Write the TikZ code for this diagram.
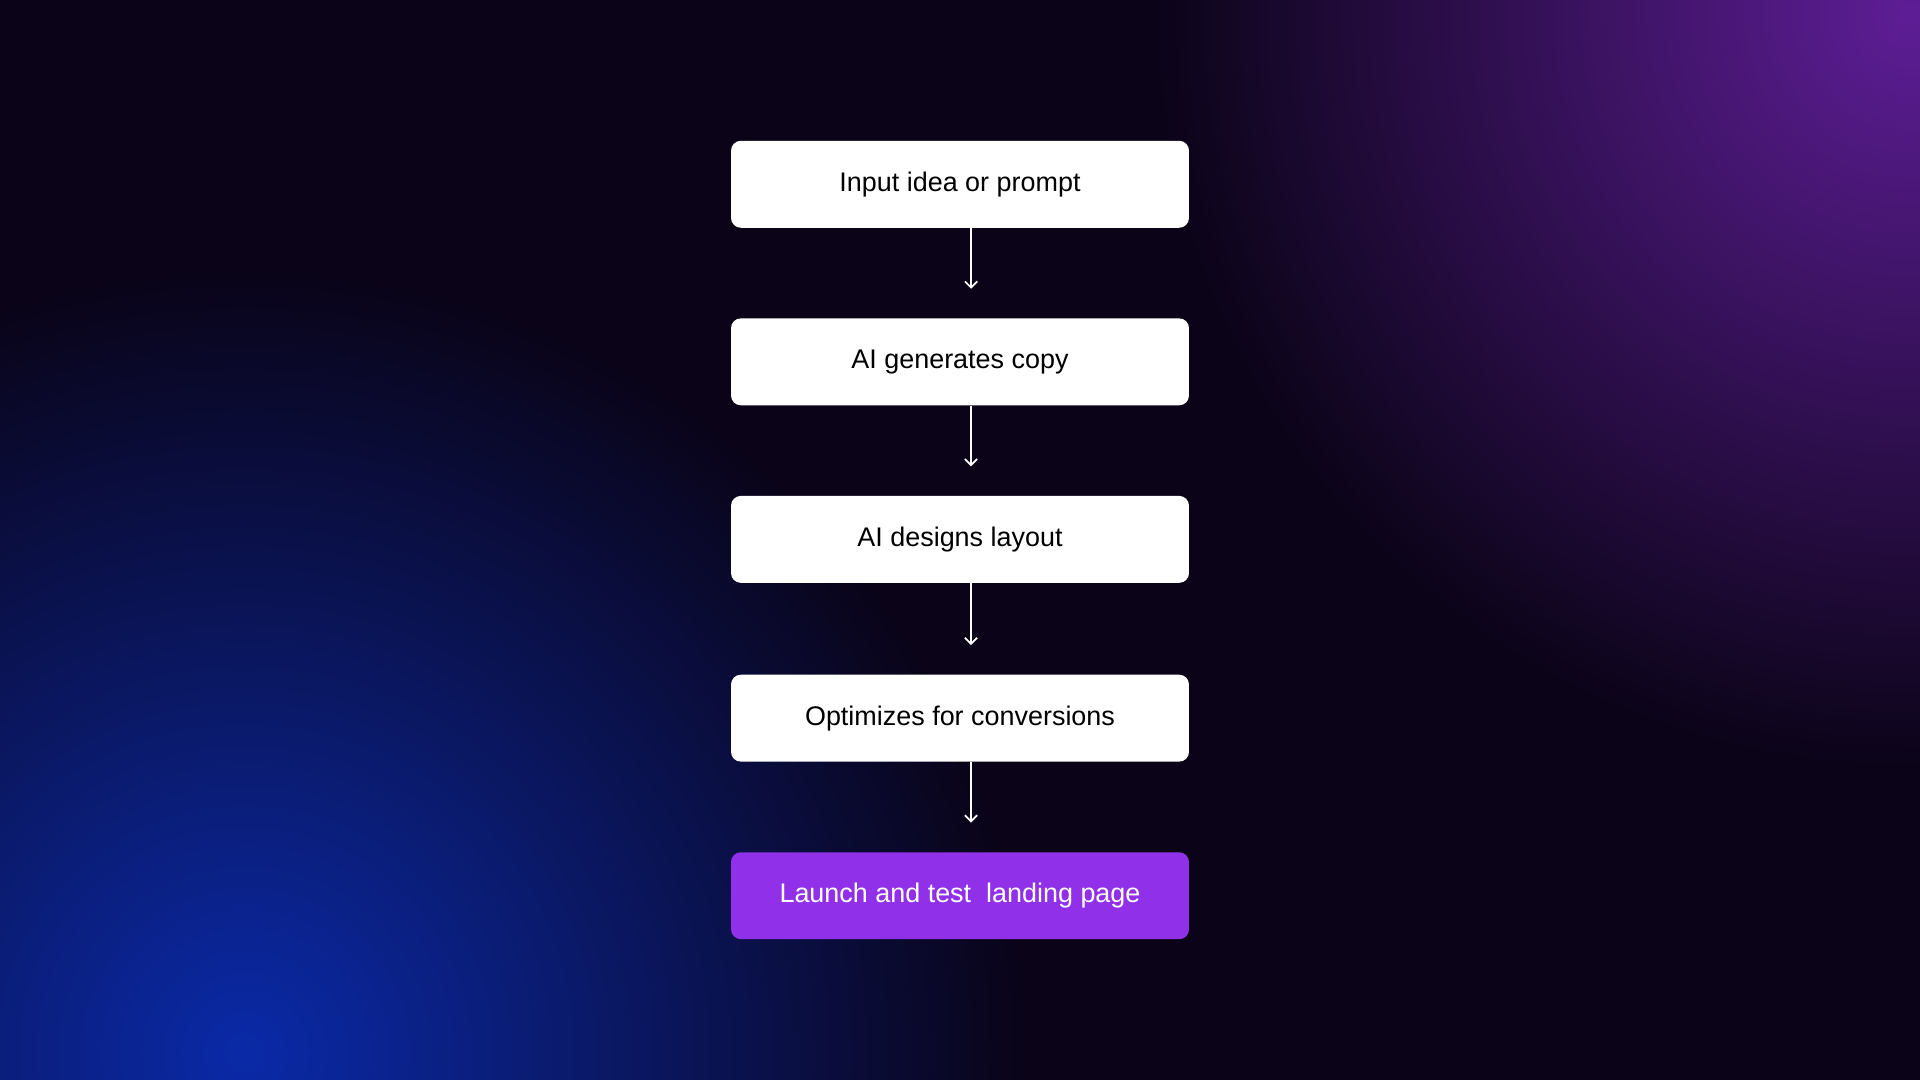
\documentclass[tikz,border=0pt]{standalone}
\usepackage{fontspec}
\setmainfont{Liberation Sans}
\usetikzlibrary{fadings,arrows.meta}
\definecolor{bgdark}{HTML}{0B0418}
\definecolor{glowpurple}{HTML}{5E1E96}
\definecolor{glowblue}{HTML}{0A2AA8}
\definecolor{launch}{HTML}{9030E8}
\tikzfading[name=glow, inner color=transparent!0, outer color=transparent!100]
\tikzset{
  stepbox/.style={rectangle, rounded corners=8pt, fill=white, minimum width=374pt, minimum height=71pt, inner sep=0pt, font=\fontsize{22}{26}\selectfont, text=black},
  flow/.style={draw=white, line width=1.4pt, -{Straight Barb[length=5pt,width=10pt]}}
}
\begin{document}
\begin{tikzpicture}[x=1pt,y=1pt]
\useasboundingbox (0,0) rectangle (1568,-882);
\fill[bgdark] (0,0) rectangle (1568,-882);
\begin{scope}
\clip (0,0) rectangle (1568,-882);
\fill[glowpurple, path fading=glow] (1560,-10) circle (620);
\fill[glowblue, path fading=glow] (200,-860) circle (640);
\end{scope}
\node[stepbox] (a) at (784,-150.5) {Input idea or prompt};
\node[stepbox] (b) at (784,-295.5) {AI generates copy};
\node[stepbox] (c) at (784,-440.5) {AI designs layout};
\node[stepbox] (d) at (784,-586.5) {Optimizes for conversions};
\node[stepbox, fill=launch, text=white] (e) at (784,-731.5) {Launch and test\ \ landing page};
\foreach \s/\t in {a/b,b/c,c/d,d/e}{
  \draw[flow] ([xshift=9pt]\s.south) -- ([xshift=9pt,yshift=24pt]\t.north);
}
\end{tikzpicture}
\end{document}
